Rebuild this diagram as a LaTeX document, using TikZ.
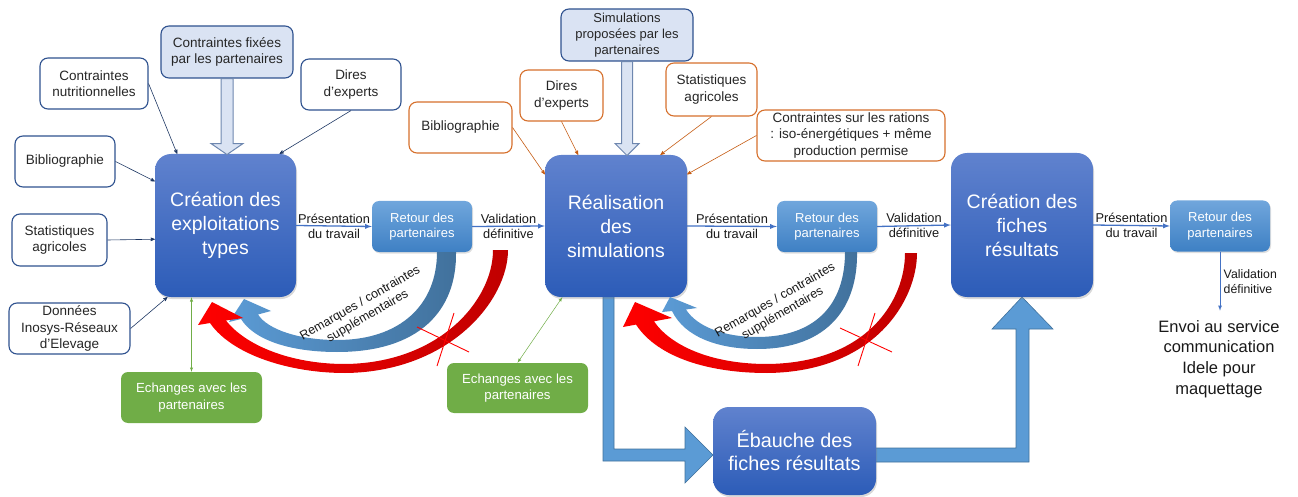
\documentclass[tikz,border=0pt]{standalone}
\usepackage{fontspec}
\setmainfont{Liberation Sans}
\usepackage{tikz}
\usetikzlibrary{arrows,positioning,shadows,backgrounds}
\definecolor{navy}{RGB}{47,82,143}
\definecolor{arrownavy}{RGB}{31,56,100}
\definecolor{orangeb}{RGB}{214,112,44}
\definecolor{orangea}{RGB}{197,90,17}
\definecolor{lightb}{RGB}{218,227,243}
\definecolor{hollowb}{RGB}{110,135,175}
\definecolor{stagetop}{RGB}{96,130,206}
\definecolor{stagebot}{RGB}{44,92,184}
\definecolor{rettop}{RGB}{112,166,220}
\definecolor{retbot}{RGB}{62,128,196}
\definecolor{greenb}{RGB}{112,173,71}
\definecolor{flowb}{RGB}{68,114,196}
\definecolor{pipef}{RGB}{91,155,213}
\definecolor{pipeb}{RGB}{65,113,156}
\definecolor{feeddark}{RGB}{65,113,156}
\definecolor{reddark}{RGB}{192,0,0}
\tikzstyle{input}=[rectangle,rounded corners=8pt,draw=navy,line width=1.1pt,fill=white,
align=center,text=black!85,font=\fontsize{13.5}{16.5}\selectfont,inner sep=0pt]
\tikzstyle{oinput}=[input,draw=orangeb]
\tikzstyle{pinput}=[input,fill=lightb]
\tikzstyle{stage}=[rectangle,rounded corners=16pt,top color=stagetop,bottom color=stagebot,
text=white,align=center,font=\fontsize{19.5}{24}\selectfont,inner sep=0pt,
drop shadow={shadow xshift=1pt,shadow yshift=-2pt,opacity=0.3}]
\tikzstyle{retour}=[rectangle,rounded corners=7pt,top color=rettop,bottom color=retbot,
text=white,align=center,font=\fontsize{13}{15.5}\selectfont,inner sep=0pt,
minimum width=100pt,minimum height=51pt,
drop shadow={shadow xshift=1pt,shadow yshift=-1.5pt,opacity=0.25}]
\tikzstyle{echange}=[rectangle,rounded corners=7pt,fill=greenb,text=white,align=center,
font=\fontsize{13.2}{16.5}\selectfont,inner sep=0pt,minimum width=141pt,minimum height=51pt]
\tikzstyle{lbl}=[align=center,font=\fontsize{12.8}{15}\selectfont,text=black!90]
\tikzstyle{flow}=[-latex,draw=flowb,line width=1.3pt]
\tikzstyle{feed}=[-stealth',draw=arrownavy,line width=0.6pt]
\tikzstyle{ofeed}=[-stealth',draw=orangea,line width=0.6pt]
\tikzstyle{xchg}=[latex-latex,draw=greenb,line width=0.5pt]
\tikzstyle{hollow}=[draw=hollowb,fill=lightb,line width=1pt]
\tikzstyle{pipe}=[draw=pipeb,fill=pipef,line width=0.6pt]
\tikzstyle{cross}=[draw=red,line width=0.9pt]

\begin{document}
\begin{tikzpicture}[x=1pt,y=-1pt]
            \useasboundingbox (0,0) rectangle (1298,497);

            % EXPLOITATIONS PART

            \node[stage,minimum width=141pt,minimum height=143pt] (A) at (225.5,225.5) {Création des\\exploitations\\types};
            \node[input,minimum width=108pt,minimum height=51pt] (nutri) at (94,83.5) {Contraintes\\nutritionnelles};
            \node[pinput,minimum width=132pt,minimum height=52pt] (fixees) at (227,52) {Contraintes fixées\\par les partenaires};
            \node[input,minimum width=100pt,minimum height=51pt] (diresA) at (351,84.5) {Dires\\d’experts};
            \node[input,minimum width=100pt,minimum height=51pt] (biblioA) at (65,161.5) {Bibliographie};
            \node[input,minimum width=95pt,minimum height=52pt] (statsA) at (59.5,240) {Statistiques\\agricoles};
            \node[input,minimum width=121pt,minimum height=51pt] (donnees) at (69.5,328.5) {Données\\Inosys-Réseaux\\d’Elevage};
            \node[echange] (echA) at (191.5,397.5) {Echanges avec les\\partenaires};
            \node[retour] (r1) at (422,226.5) {Retour des\\partenaires};

            \draw[feed] (nutri.east) -- (A.124);
            \draw[feed] (diresA.south) -- (A.53);
            \draw[feed] (biblioA.east) -- (A.148);
            \draw[feed] (statsA.east) -- (A.191);
            \draw[feed] (donnees.east) -- (A.231);
            \draw[xchg] (echA.north) -- (echA.north |- A.south);
            \draw[hollow] (fixees.south) ++(-6,0) -- ++(0,65) -- ++(-10,0) -- ++(16,11)
                -- ++(16,-11) -- ++(-10,0) -- ++(0,-65) -- cycle;
            \draw[flow] (A.east) -- (r1.west) node[midway,lbl] {Présentation\\du travail};

            % SIMULATIONS PART

            \node[stage,minimum width=142pt,minimum height=142pt] (B) at (616,226) {Réalisation\\des\\simulations};
            \node[pinput,minimum width=132pt,minimum height=52pt,font=\fontsize{13}{15.8}\selectfont] (simul) at (627,35) {Simulations\\proposées par les\\partenaires};
            \node[oinput,minimum width=103pt,minimum height=51pt] (biblioB) at (460.5,127.5) {Bibliographie};
            \node[oinput,minimum width=83pt,minimum height=51pt] (diresB) at (561.5,95.5) {Dires\\d’experts};
            \node[oinput,minimum width=91pt,minimum height=53pt] (statsB) at (711.5,89.5) {Statistiques\\agricoles};
            \node[oinput,minimum width=188pt,minimum height=51pt] (rations) at (851,135.5) {Contraintes sur les rations\\: iso-énergétiques + même\\production permise};
            \node[echange,minimum height=50pt] (echB) at (517.5,388) {Echanges avec les\\partenaires};
            \node[retour] (r2) at (827,226.5) {Retour des\\partenaires};

            \draw[ofeed] (biblioB.east) -- (B.144);
            \draw[ofeed] (diresB.south) -- (B.118);
            \draw[ofeed] (statsB.south) -- (B.58);
            \draw[ofeed] (rations.west) -- (B.36);
            \draw[xchg] (echB.north) -- (B.233);
            \draw[hollow] (simul.south) ++(-5.5,0) -- ++(0,82) -- ++(-6.5,0) -- ++(12,12)
                -- ++(12,-12) -- ++(-6.5,0) -- ++(0,-82) -- cycle;
            \draw[flow] (r1.east) -- (B.west) node[midway,lbl] {Validation\\définitive};
            \draw[flow] (B.east) -- (r2.west) node[midway,lbl] {Présentation\\du travail};

            % FICHES PART

            \node[stage,minimum width=142pt,minimum height=144pt] (C) at (1022,225) {Création des\\fiches\\résultats};
            \node[stage,minimum width=163pt,minimum height=88pt,font=\fontsize{19.8}{23}\selectfont] (eb) at (794.5,451) {Ébauche des\\fiches résultats};
            \node[retour] (r3) at (1220,226) {Retour des\\partenaires};
            \node[font=\fontsize{16.5}{20.7}\selectfont,align=center,text=black!90] (envoi) at (1219,359) {Envoi au service\\communication\\Idele pour\\maquettage};

            \draw[flow] (r2.east) -- (C.west) node[midway,lbl] {Validation\\définitive};
            \draw[flow] (C.east) -- (r3.west) node[midway,lbl] {Présentation\\du travail};
            \draw[flow,line width=0.8pt] (r3.south) -- ([yshift=6pt]r3.south |- envoi.north)
                node[midway,right,lbl,align=left,font=\fontsize{12.3}{15}\selectfont] {Validation\\définitive};

            \begin{pgfonlayer}{background}
            \draw[pipe] (603,290) -- (603,461) -- (685,461) -- (685,483) -- (713,455)
                -- (685,427) -- (685,449) -- (614,449) -- (614,290) -- cycle;
            \draw[pipe] (870,448) -- (1016,448) -- (1016,329) -- (992,329) -- (1022,297)
                -- (1053,329) -- (1029,329) -- (1029,462) -- (870,462) -- cycle;
            \end{pgfonlayer}

            % FEEDBACK LOOPS

            \shade[left color=pipef,right color=feeddark] (437,252) .. controls (437,305) and (400,340) .. (337,340)
                .. controls (300,340) and (268,330) .. (258,314.5) -- (271,311) -- (244,299) -- (229,322) -- (241,319)
                .. controls (254,340) and (290,352) .. (337,352) .. controls (420,352) and (457,310) .. (456,252) -- cycle;
            \shade[left color=red,right color=reddark] (493,250) .. controls (493,300) and (440,363) .. (345,364)
                .. controls (290,364) and (245,345) .. (226,320.5) -- (243,318) -- (212,302) -- (198,325) -- (210,323)
                .. controls (232,355) and (290,373) .. (345,373) .. controls (450,372) and (508,300) .. (508,250) -- cycle;
            \draw[cross] (417,327) -- (469,352);
            \draw[cross] (454,313) -- (437,366);
            \node[lbl,rotate=30,font=\fontsize{12.5}{15}\selectfont] (rem1) at (364,310) {Remarques / contraintes\\supplémentaires};

            \shade[left color=pipef,right color=feeddark] (845,252) .. controls (845,305) and (815,337) .. (757,337)
                .. controls (725,337) and (697,327) .. (686,309.5) -- (697,308) -- (670,297) -- (662,312) -- (672,311)
                .. controls (685,338) and (720,349) .. (757,349) .. controls (830,349) and (858,305) .. (857,252) -- cycle;
            \shade[left color=red,right color=reddark] (905,253) .. controls (905,300) and (868,363) .. (767,364)
                .. controls (710,364) and (670,345) .. (654,321.3) -- (672,318) -- (635,302) -- (623,327) -- (636,324.6)
                .. controls (658,358) and (710,373) .. (767,373) .. controls (875,372) and (917,300) .. (917,253) -- cycle;
            \draw[cross] (840,328) -- (892,352);
            \draw[cross] (875,313) -- (858,366);
            \node[lbl,rotate=30,font=\fontsize{12.5}{15}\selectfont] (rem2) at (779,307) {Remarques / contraintes\\supplémentaires};

        \end{tikzpicture}
\end{document}
